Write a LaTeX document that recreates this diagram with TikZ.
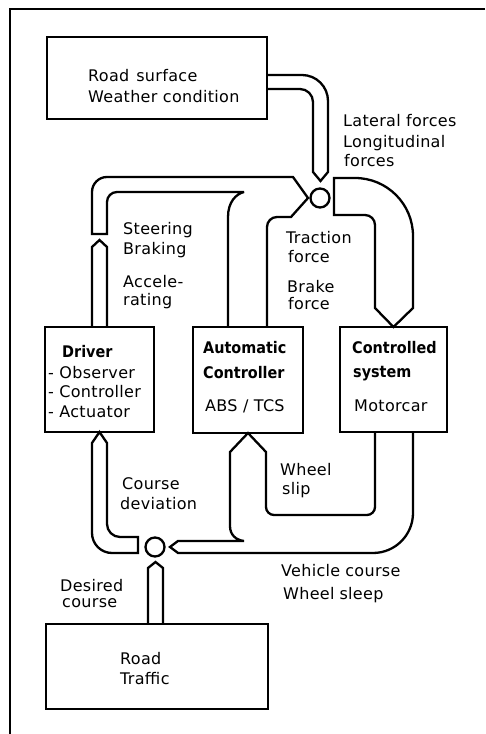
\documentclass[tikz,border=0pt]{standalone}
\usepackage{fontspec}
\setmainfont{DejaVu Sans}[LetterSpace=2]
\newfontfamily\titlefont{DejaVu Sans Condensed}[LetterSpace=0]
\begin{document}
\begin{tikzpicture}[x=1pt,y=1pt,
  box/.style={draw, line width=2.3pt, inner sep=0pt},
  flow/.style={draw, line width=2.3pt, line join=miter, miter limit=4},
  lbl/.style={anchor=base west, inner sep=0pt, font=\fontsize{16}{20}\selectfont},
  ttl/.style={anchor=base west, inner sep=0pt, font=\titlefont\bfseries\fontsize{16}{20}\selectfont},
  sumc/.style={circle, draw, line width=2.3pt, minimum size=19pt, inner sep=0pt}]

\useasboundingbox (0,0) rectangle (485,734);

% partial frame
\coordinate (ftr) at (485,725);
\coordinate (ftl) at (10,725);
\coordinate (fbl) at (10,0);
\draw[line width=2.3pt] (ftr) -- (ftl) -- (fbl);

% boxes
\node[box, minimum width=220pt, minimum height=82pt] (env) at (157,656) {};
\node[box, minimum width=109pt, minimum height=105pt] (driver) at (99.5,354.5) {};
\node[box, minimum width=110pt, minimum height=106pt] (auto) at (248,354) {};
\node[box, minimum width=107pt, minimum height=105pt] (plant) at (393.5,354.5) {};
\node[box, minimum width=222pt, minimum height=85pt] (road) at (157,67.5) {};

% summing points
\node[sumc] (s1) at (320,536) {};
\node[sumc] (s2) at (155,187) {};

% A: environment -> s1
\draw[flow] (267,659) -- (302,659) arc[start angle=90,end angle=0,radius=26]
  -- (328,562) -- (320.5,553) -- (313,562) -- (313,632)
  arc[start angle=0,end angle=90,radius=13] -- (267,645);

% B: driver output arrow
\draw[flow] (92,407) -- (92,487) -- (99.5,494) -- (107,487) -- (107,407);

% C: driver + automatic controller -> s1
\draw[flow] (228,407) -- (228,517) .. controls (228,532) and (236,540) .. (244,542)
  -- (117,542) arc[start angle=90,end angle=180,radius=10]
  -- (107,500) -- (92,500) -- (92,542)
  arc[start angle=180,end angle=90,radius=15]
  -- (293,557) -- (308,536) -- (291,517) -- (277,517)
  arc[start angle=90,end angle=180,radius=10] -- (267,407);

% D: s1 -> controlled system
\draw[flow] (334,519) -- (334,556) -- (355,556)
  arc[start angle=90,end angle=0,radius=58]
  -- (413,426) -- (393.5,407) -- (375,426) -- (375,509)
  arc[start angle=0,end angle=90,radius=10] -- cycle;

% E: controlled system -> automatic controller and s2
\draw[flow] (375,302) -- (375,227) arc[start angle=0,end angle=-90,radius=8]
  -- (274,219) arc[start angle=270,end angle=180,radius=8]
  -- (266,282) -- (248,301) -- (230,282)
  -- (230,208) .. controls (230,199) and (236,194) .. (244,193)
  -- (178,193) -- (170,187) -- (178,181) -- (373,181)
  arc[start angle=270,end angle=360,radius=40] -- (413,302);

% F: s2 -> driver
\draw[flow] (138,197) -- (138,181) -- (112,181)
  arc[start angle=270,end angle=180,radius=20]
  -- (92,291) -- (99.5,302) -- (107,291) -- (107,210)
  arc[start angle=180,end angle=270,radius=13] -- cycle;

% G: road -> s2
\draw[flow] (148,110) -- (148,166) -- (155.5,172) -- (163,166) -- (163,110);

% texts
\node[lbl] (t1) at (88,652) {Road\hspace{7pt}surface};
\node[lbl] (t2) at (88,631) {Weather condition};
\node[lbl] (t3) at (343,607) {Lateral forces};
\node[lbl] (t4) at (343,586) {Longitudinal};
\node[lbl] (t5) at (344,567) {forces};
\node[lbl] (t6) at (123,499) {Steering};
\node[lbl] (t7) at (123,479) {Braking};
\node[lbl] (t8) at (123,446) {Accele-};
\node[lbl] (t9) at (123,428) {rating};
\node[lbl] (t10) at (286,490) {Traction};
\node[lbl] (t11) at (288,471) {force};
\node[lbl] (t12) at (287,441) {Brake};
\node[lbl] (t13) at (288,424) {force};
\node[ttl] (t14) at (62,376) {Driver};
\node[lbl] (t15) at (48,355) {- Observer};
\node[lbl] (t16) at (48,336) {- Controller};
\node[lbl] (t17) at (48,316) {- Actuator};
\node[ttl] (t18) at (203,380) {Automatic};
\node[ttl] (t19) at (203,355) {Controller};
\node[lbl] (t20) at (205,322) {ABS / TCS};
\node[ttl] (t21) at (352,380) {Controlled};
\node[ttl] (t22) at (353,356) {system};
\node[lbl] (t23) at (354,322) {Motorcar};
\node[lbl] (t24) at (280,258) {Wheel};
\node[lbl] (t25) at (282,239) {slip};
\node[lbl] (t26) at (122,244) {Course};
\node[lbl] (t27) at (120,224) {deviation};
\node[lbl] (t28) at (281,157) {Vehicle\hspace{5pt}course};
\node[lbl] (t29) at (283,134) {Wheel\hspace{5pt}sleep};
\node[lbl] (t30) at (60,142) {Desired};
\node[lbl] (t31) at (62,126) {course};
\node[lbl] (t32) at (120,69) {Road};
\node[lbl] (t33) at (120,49) {Traffic};
\end{tikzpicture}
\end{document}
